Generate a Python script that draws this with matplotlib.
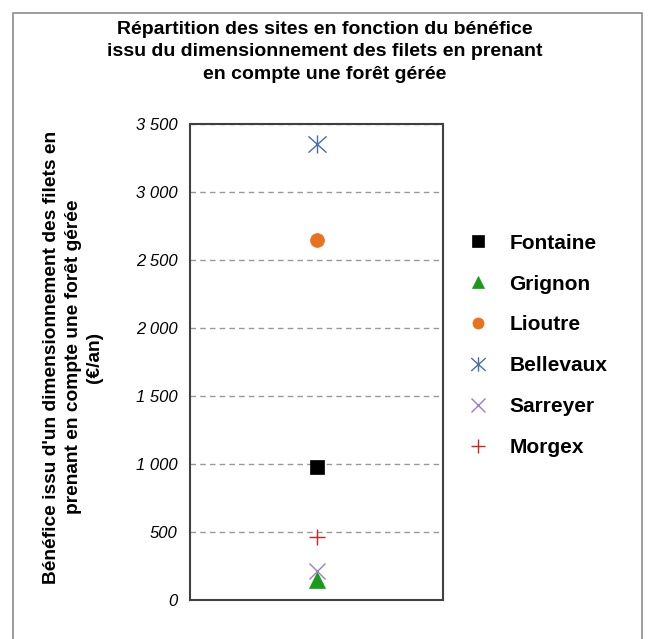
import matplotlib
matplotlib.use("Agg")
import matplotlib.pyplot as plt
from matplotlib.patches import Rectangle
from matplotlib.path import Path
from matplotlib.ticker import FuncFormatter

plt.rcParams['font.family'] = ['Liberation Sans', 'DejaVu Sans']

sites = ["Fontaine", "Grignon", "Lioutre", "Bellevaux", "Sarreyer", "Morgex"]
benefices = [975, 150, 2650, 3350, 210, 465]
colors = ["#000000", "#1a9a1a", "#e8731c", "#4a6fa5", "#a07cc8", "#d0202a"]

# star marker: vertical stroke plus a cross
star = Path([(0, -1), (0, 1), (-1, -0.9), (1, 0.9), (-1, 0.9), (1, -0.9)],
            [Path.MOVETO, Path.LINETO, Path.MOVETO, Path.LINETO,
             Path.MOVETO, Path.LINETO])
markers = ["s", "^", "o", star, "x", "+"]
sizes = [10, 11, 10, 13, 12, 12]

fig = plt.figure(figsize=(6.5, 6.39), dpi=100)

# outer frame of the chart
fig.patches.append(Rectangle((13 / 650, -0.05), (642 - 13) / 650, 1 - 13 / 639 + 0.05,
                             transform=fig.transFigure, fill=False,
                             edgecolor="#8c8c8c", linewidth=1.2))

ax = fig.add_axes([190 / 650, 1 - 600 / 639, (443 - 190) / 650, (600 - 124) / 639])

for name, val, c, m, s in zip(sites, benefices, colors, markers, sizes):
    lw = 1.0 if m in ("x", "+") or isinstance(m, Path) else 0.5
    ax.plot([1], [val], linestyle="none", marker=m, color=c, markersize=s,
            markeredgewidth=lw, label=name)

ax.set_xlim(0, 2)
ax.set_ylim(0, 3500)
ax.set_yticks(range(0, 3501, 500))
ax.yaxis.set_major_formatter(FuncFormatter(lambda v, p: f"{int(v):,}".replace(",", " ")))
ax.set_xticks([])
ax.tick_params(axis="y", length=0, pad=9, labelsize=12)
for t in ax.get_yticklabels():
    t.set_fontstyle("italic")
ax.yaxis.grid(True, linestyle=(0, (4, 3)), color="#999999", linewidth=1)
ax.set_axisbelow(True)
for sp in ax.spines.values():
    sp.set_color("#404040")
    sp.set_linewidth(1.5)

fig.text(325 / 650, 1 - 52 / 639,
         "Répartition des sites en fonction du bénéfice\n"
         "issu du dimensionnement des filets en prenant\n"
         "en compte une forêt gérée",
         ha="center", va="center", fontsize=14, fontweight="bold",
         linespacing=1.42)

fig.text(73 / 650, 1 - 357 / 639,
         "Bénéfice issu d'un dimensionnement des filets en\n"
         "prenant en compte une forêt gérée\n"
         "(€/an)",
         ha="center", va="center", rotation=90, fontsize=13.8,
         fontweight="bold", linespacing=1.32)

leg = fig.legend(loc="upper left", bbox_to_anchor=(449 / 650, 1 - 215 / 639),
                 frameon=False, prop={"weight": "bold", "size": 15},
                 labelspacing=1.05, handlelength=1.0, handletextpad=1.0,
                 markerscale=0.8)

fig.savefig("out.png", dpi=100)
